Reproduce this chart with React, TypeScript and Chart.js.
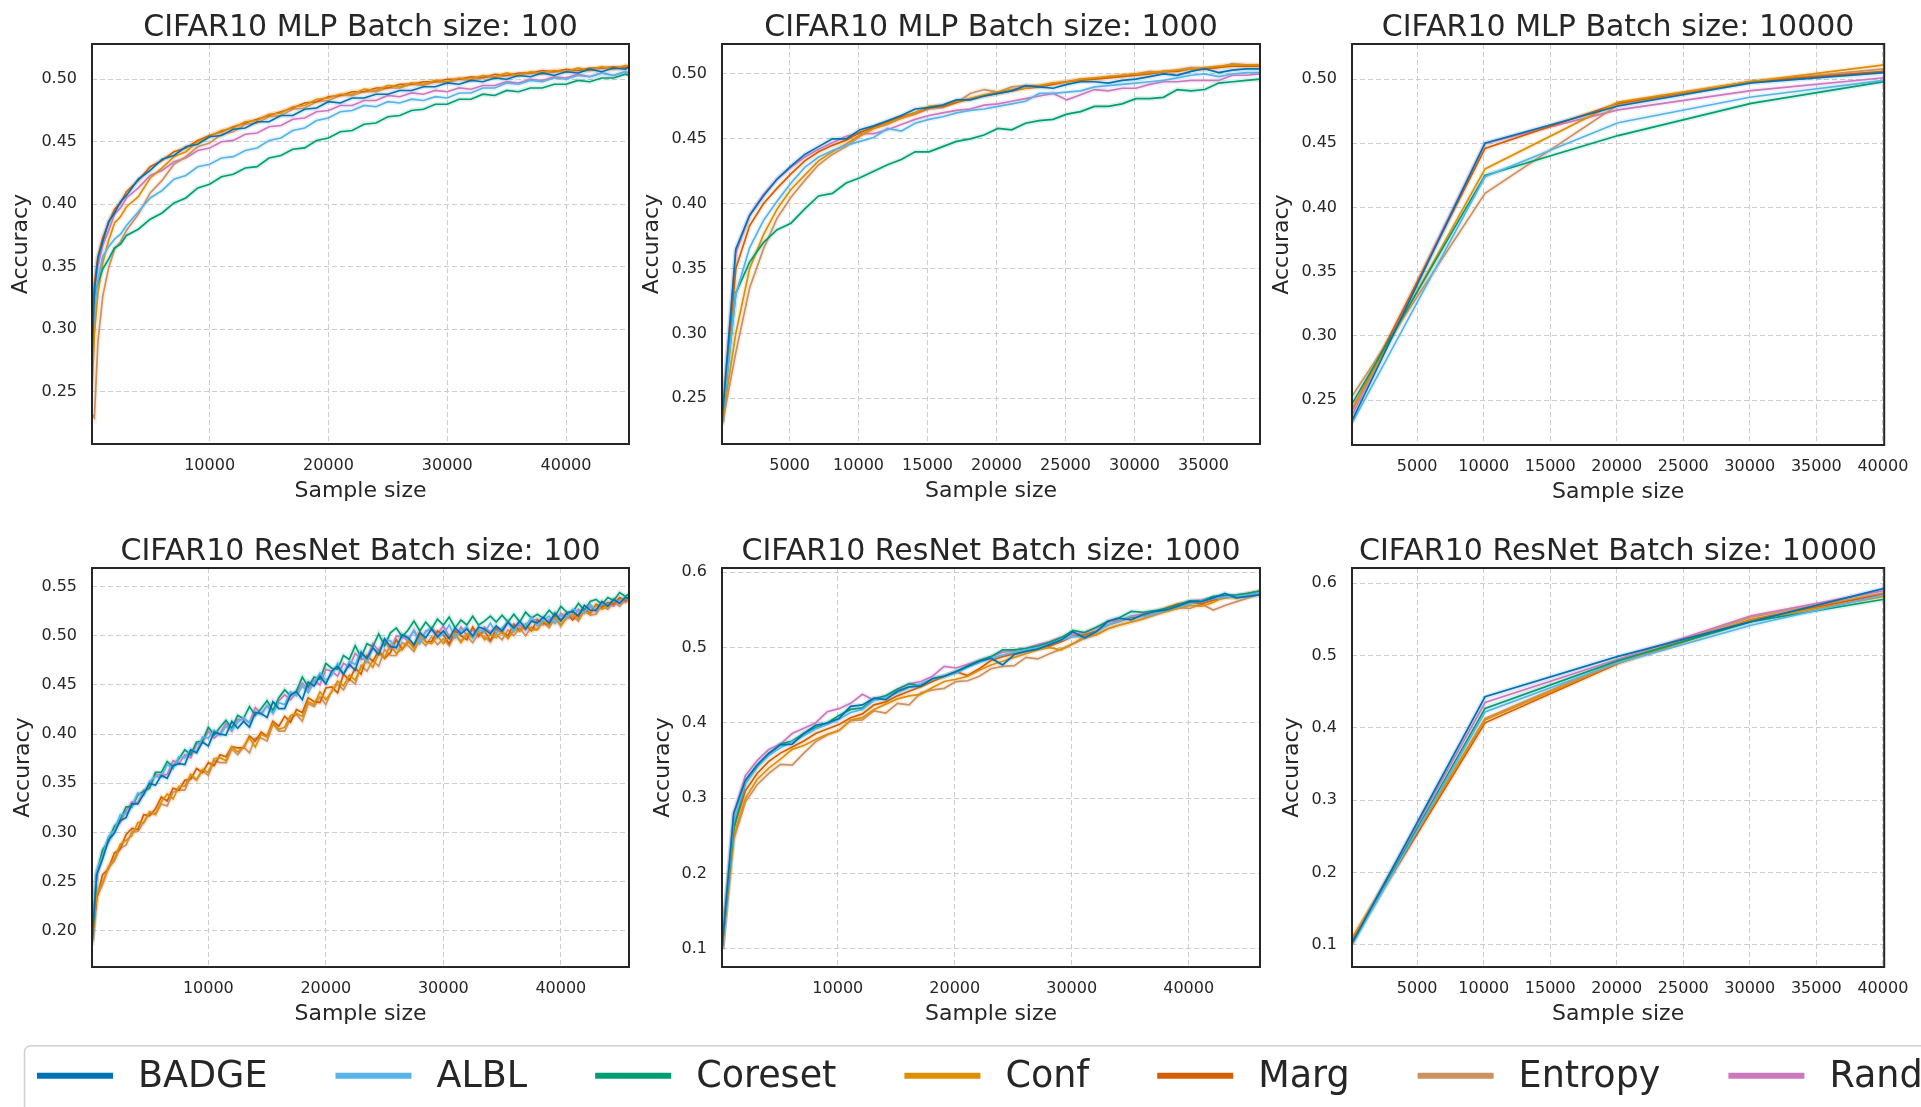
import React, { useEffect, useRef } from "react";
import { Chart, registerables } from "chart.js";

Chart.register(...registerables);

const FONT = "'DejaVu Sans', sans-serif";
const TEXT = "#262626";

const SERIES_NAMES = ["BADGE", "ALBL", "Coreset", "Conf", "Marg", "Entropy", "Rand"];
const SERIES_COLORS = ["#0173b2", "#56b4e9", "#029e73", "#de8f05", "#d55e00", "#ca9161", "#cc78bc"];

const PANEL_TITLES = [
  "CIFAR10 MLP Batch size: 100",
  "CIFAR10 MLP Batch size: 1000",
  "CIFAR10 MLP Batch size: 10000",
  "CIFAR10 ResNet Batch size: 100",
  "CIFAR10 ResNet Batch size: 1000",
  "CIFAR10 ResNet Batch size: 10000",
];
const X_LABEL = "Sample size";
const Y_LABEL = "Accuracy";

// ---------- tick values ----------
const X_TICKS_10K = [10000, 20000, 30000, 40000];
const X_TICKS_5K_35 = [5000, 10000, 15000, 20000, 25000, 30000, 35000];
const X_TICKS_5K_40 = [5000, 10000, 15000, 20000, 25000, 30000, 35000, 40000];
const Y_TICKS_MLP = [0.25, 0.3, 0.35, 0.4, 0.45, 0.5];
const Y_TICKS_RES100 = [0.2, 0.25, 0.3, 0.35, 0.4, 0.45, 0.5, 0.55];
const Y_TICKS_RES = [0.1, 0.2, 0.3, 0.4, 0.5, 0.6];

// ---------- MLP, batch 100 ----------
const X_P1 = [100,300,600,1000,1500,2000,2500,3000,4000,5000,6000,7000,8000,9000,10000,11000,12000,13000,14000,15000,16000,17000,18000,19000,20000,21000,22000,23000,24000,25000,26000,27000,28000,29000,30000,31000,32000,33000,34000,35000,36000,37000,38000,39000,40000,41000,42000,43000,44000,45000,45300];
const BADGE_P1 = [0.275,0.331,0.357,0.370,0.386,0.393,0.402,0.407,0.420,0.427,0.436,0.439,0.446,0.448,0.454,0.455,0.460,0.461,0.466,0.466,0.471,0.471,0.476,0.477,0.482,0.481,0.485,0.485,0.488,0.488,0.491,0.491,0.494,0.494,0.497,0.496,0.499,0.498,0.501,0.500,0.503,0.502,0.505,0.503,0.506,0.505,0.508,0.506,0.509,0.508,0.510];
const ALBL_P1 = [0.286,0.316,0.339,0.358,0.366,0.372,0.376,0.383,0.394,0.405,0.411,0.420,0.423,0.430,0.432,0.437,0.438,0.443,0.445,0.451,0.453,0.459,0.461,0.467,0.469,0.474,0.475,0.479,0.478,0.482,0.481,0.484,0.483,0.486,0.485,0.489,0.489,0.493,0.493,0.497,0.496,0.499,0.498,0.501,0.500,0.503,0.502,0.505,0.503,0.506,0.504];
const CORESET_P1 = [0.297,0.326,0.337,0.348,0.356,0.365,0.368,0.375,0.380,0.388,0.393,0.401,0.405,0.413,0.416,0.422,0.424,0.429,0.430,0.437,0.439,0.444,0.445,0.451,0.453,0.458,0.459,0.464,0.465,0.470,0.471,0.475,0.476,0.480,0.480,0.484,0.484,0.488,0.487,0.491,0.490,0.493,0.493,0.496,0.496,0.499,0.498,0.501,0.501,0.504,0.503];
const CONF_P1 = [0.250,0.296,0.329,0.353,0.371,0.385,0.390,0.398,0.406,0.421,0.429,0.438,0.442,0.450,0.454,0.459,0.461,0.466,0.467,0.472,0.473,0.478,0.479,0.484,0.485,0.488,0.488,0.492,0.491,0.495,0.494,0.497,0.496,0.499,0.498,0.501,0.500,0.503,0.502,0.505,0.503,0.506,0.505,0.507,0.506,0.509,0.507,0.510,0.508,0.511,0.510];
const MARG_P1 = [0.285,0.336,0.358,0.373,0.385,0.396,0.401,0.410,0.419,0.430,0.435,0.442,0.445,0.451,0.455,0.458,0.462,0.465,0.468,0.471,0.474,0.477,0.481,0.482,0.486,0.487,0.490,0.490,0.493,0.493,0.496,0.496,0.498,0.498,0.500,0.500,0.502,0.501,0.504,0.503,0.505,0.505,0.507,0.506,0.508,0.507,0.509,0.509,0.510,0.509,0.511];
const ENTROPY_P1 = [0.232,0.229,0.290,0.326,0.349,0.364,0.370,0.379,0.392,0.409,0.419,0.432,0.438,0.446,0.449,0.456,0.458,0.464,0.465,0.470,0.471,0.476,0.477,0.482,0.483,0.487,0.487,0.490,0.490,0.493,0.493,0.496,0.495,0.498,0.497,0.500,0.499,0.502,0.501,0.503,0.503,0.505,0.504,0.506,0.506,0.507,0.507,0.509,0.508,0.510,0.509];
const RAND_P1 = [0.280,0.331,0.351,0.367,0.379,0.392,0.397,0.405,0.413,0.423,0.427,0.434,0.437,0.443,0.445,0.450,0.451,0.456,0.457,0.462,0.463,0.468,0.469,0.474,0.475,0.479,0.479,0.483,0.483,0.487,0.486,0.489,0.488,0.491,0.490,0.493,0.492,0.495,0.495,0.498,0.497,0.500,0.499,0.502,0.501,0.504,0.502,0.505,0.503,0.506,0.505];

// ---------- MLP, batch 1000 ----------
const X_P2 = [100,1100,2100,3100,4100,5100,6100,7100,8100,9100,10100,11100,12100,13100,14100,15100,16100,17100,18100,19100,20100,21100,22100,23100,24100,25100,26100,27100,28100,29100,30100,31100,32100,33100,34100,35100,36100,37100,38100,39100];
const BADGE_P2 = [0.232,0.365,0.391,0.406,0.419,0.429,0.438,0.444,0.450,0.450,0.457,0.460,0.464,0.468,0.473,0.474,0.476,0.480,0.480,0.483,0.485,0.487,0.491,0.490,0.489,0.492,0.494,0.494,0.493,0.495,0.496,0.498,0.500,0.499,0.502,0.504,0.501,0.503,0.504,0.504];
const ALBL_P2 = [0.232,0.330,0.366,0.387,0.402,0.416,0.428,0.436,0.441,0.445,0.448,0.451,0.458,0.456,0.462,0.465,0.467,0.470,0.472,0.473,0.475,0.477,0.479,0.485,0.485,0.486,0.487,0.490,0.491,0.492,0.493,0.494,0.495,0.497,0.499,0.500,0.498,0.500,0.501,0.501];
const CORESET_P2 = [0.232,0.331,0.355,0.370,0.380,0.385,0.396,0.406,0.408,0.416,0.420,0.425,0.430,0.434,0.440,0.440,0.444,0.448,0.450,0.453,0.458,0.457,0.462,0.464,0.465,0.469,0.471,0.475,0.475,0.477,0.481,0.481,0.482,0.488,0.487,0.488,0.493,0.494,0.495,0.496];
const CONF_P2 = [0.231,0.300,0.350,0.376,0.396,0.411,0.422,0.433,0.440,0.446,0.453,0.458,0.462,0.466,0.470,0.475,0.476,0.479,0.481,0.484,0.486,0.488,0.489,0.491,0.493,0.494,0.496,0.497,0.498,0.499,0.500,0.501,0.502,0.503,0.504,0.505,0.506,0.507,0.507,0.507];
const MARG_P2 = [0.230,0.350,0.383,0.400,0.412,0.423,0.433,0.440,0.445,0.449,0.455,0.459,0.463,0.467,0.470,0.474,0.475,0.478,0.481,0.483,0.485,0.487,0.489,0.490,0.492,0.494,0.495,0.496,0.497,0.498,0.499,0.500,0.502,0.502,0.504,0.504,0.505,0.506,0.506,0.506];
const ENTROPY_P2 = [0.229,0.285,0.335,0.365,0.389,0.405,0.418,0.430,0.438,0.444,0.452,0.458,0.461,0.466,0.469,0.473,0.474,0.478,0.485,0.488,0.486,0.490,0.491,0.491,0.493,0.494,0.496,0.496,0.498,0.499,0.500,0.502,0.501,0.503,0.505,0.504,0.505,0.508,0.507,0.507];
const RAND_P2 = [0.231,0.362,0.391,0.407,0.419,0.428,0.436,0.442,0.447,0.452,0.454,0.454,0.457,0.461,0.465,0.468,0.470,0.472,0.473,0.476,0.477,0.479,0.481,0.483,0.485,0.480,0.484,0.488,0.487,0.489,0.489,0.492,0.494,0.494,0.495,0.495,0.495,0.499,0.499,0.500];

// ---------- batch 10000 (MLP and ResNet) ----------
const X_B10000 = [100, 10100, 20100, 30100, 40100];
const BADGE_P3 = [0.234, 0.450, 0.479, 0.497, 0.505];
const ALBL_P3 = [0.232, 0.424, 0.466, 0.486, 0.499];
const CORESET_P3 = [0.247, 0.425, 0.456, 0.481, 0.498];
const CONF_P3 = [0.243, 0.430, 0.482, 0.498, 0.511];
const MARG_P3 = [0.242, 0.446, 0.481, 0.498, 0.506];
const ENTROPY_P3 = [0.253, 0.411, 0.480, 0.498, 0.508];
const RAND_P3 = [0.238, 0.450, 0.476, 0.491, 0.501];

const BADGE_P6 = [0.102, 0.443, 0.499, 0.547, 0.593];
const ALBL_P6 = [0.100, 0.422, 0.490, 0.542, 0.584];
const CORESET_P6 = [0.101, 0.427, 0.493, 0.547, 0.578];
const CONF_P6 = [0.109, 0.411, 0.490, 0.549, 0.582];
const MARG_P6 = [0.106, 0.407, 0.489, 0.550, 0.585];
const ENTROPY_P6 = [0.107, 0.413, 0.492, 0.553, 0.587];
const RAND_P6 = [0.104, 0.435, 0.495, 0.555, 0.590];

// ---------- ResNet, batch 100 ----------
const X_P4 = [100,500,1000,1500,2000,2500,3000,3500,4000,4500,5000,5500,6000,6500,7000,7500,8000,8500,9000,9500,10000,10500,11000,11500,12000,12500,13000,13500,14000,14500,15000,15500,16000,16500,17000,17500,18000,18500,19000,19500,20000,20500,21000,21500,22000,22500,23000,23500,24000,24500,25000,25500,26000,26500,27000,27500,28000,28500,29000,29500,30000,30500,31000,31500,32000,32500,33000,33500,34000,34500,35000,35500,36000,36500,37000,37500,38000,38500,39000,39500,40000,40500,41000,41500,42000,42500,43000,43500,44000,44500,45000,45500,45800];
const BADGE_P4 = [0.190,0.257,0.273,0.292,0.299,0.312,0.315,0.329,0.329,0.339,0.350,0.348,0.358,0.355,0.368,0.370,0.369,0.384,0.381,0.392,0.388,0.402,0.400,0.399,0.413,0.406,0.413,0.407,0.422,0.421,0.417,0.433,0.426,0.426,0.440,0.443,0.435,0.453,0.449,0.459,0.451,0.464,0.469,0.461,0.471,0.465,0.483,0.477,0.488,0.481,0.497,0.489,0.488,0.501,0.498,0.491,0.503,0.498,0.507,0.499,0.505,0.497,0.508,0.502,0.507,0.500,0.509,0.507,0.502,0.510,0.505,0.514,0.508,0.515,0.507,0.515,0.513,0.519,0.513,0.523,0.515,0.523,0.525,0.520,0.531,0.526,0.526,0.535,0.530,0.537,0.533,0.539,0.538];
const ALBL_P4 = [0.195,0.261,0.276,0.296,0.302,0.318,0.319,0.327,0.340,0.338,0.352,0.357,0.356,0.369,0.365,0.377,0.376,0.384,0.382,0.397,0.396,0.404,0.399,0.408,0.404,0.412,0.417,0.411,0.422,0.420,0.429,0.421,0.432,0.430,0.443,0.439,0.449,0.442,0.453,0.462,0.455,0.460,0.472,0.461,0.474,0.471,0.484,0.473,0.487,0.483,0.496,0.495,0.487,0.501,0.497,0.505,0.492,0.505,0.507,0.498,0.502,0.511,0.498,0.505,0.509,0.498,0.507,0.503,0.513,0.503,0.508,0.514,0.504,0.514,0.510,0.519,0.510,0.516,0.520,0.513,0.521,0.518,0.527,0.525,0.524,0.532,0.526,0.533,0.531,0.537,0.534,0.539,0.538];
const CORESET_P4 = [0.185,0.258,0.282,0.291,0.306,0.313,0.326,0.326,0.338,0.342,0.345,0.361,0.361,0.372,0.367,0.375,0.384,0.379,0.392,0.393,0.407,0.399,0.407,0.414,0.406,0.419,0.416,0.428,0.419,0.426,0.434,0.424,0.437,0.445,0.439,0.444,0.458,0.448,0.458,0.456,0.472,0.467,0.466,0.480,0.476,0.490,0.478,0.492,0.489,0.502,0.490,0.503,0.508,0.499,0.506,0.515,0.505,0.514,0.507,0.517,0.511,0.519,0.508,0.516,0.511,0.520,0.511,0.515,0.520,0.514,0.521,0.514,0.522,0.514,0.524,0.518,0.522,0.518,0.526,0.520,0.530,0.524,0.524,0.533,0.526,0.535,0.537,0.532,0.539,0.536,0.544,0.540,0.543];
const CONF_P4 = [0.190,0.237,0.249,0.265,0.273,0.288,0.292,0.297,0.310,0.310,0.321,0.319,0.331,0.339,0.334,0.347,0.347,0.359,0.354,0.364,0.361,0.375,0.376,0.373,0.387,0.382,0.387,0.396,0.387,0.400,0.397,0.411,0.405,0.407,0.419,0.421,0.418,0.433,0.430,0.443,0.435,0.443,0.454,0.449,0.460,0.455,0.468,0.475,0.468,0.482,0.478,0.491,0.482,0.487,0.495,0.487,0.500,0.494,0.492,0.500,0.492,0.500,0.502,0.493,0.502,0.498,0.505,0.496,0.501,0.498,0.505,0.497,0.506,0.505,0.512,0.506,0.506,0.515,0.511,0.519,0.511,0.519,0.522,0.517,0.525,0.522,0.531,0.527,0.530,0.536,0.533,0.538,0.537];
const MARG_P4 = [0.190,0.233,0.257,0.263,0.279,0.283,0.298,0.304,0.303,0.318,0.317,0.324,0.336,0.332,0.345,0.343,0.353,0.354,0.365,0.361,0.371,0.368,0.379,0.377,0.387,0.386,0.386,0.398,0.393,0.402,0.398,0.413,0.408,0.418,0.412,0.425,0.422,0.437,0.433,0.432,0.447,0.448,0.442,0.461,0.455,0.467,0.461,0.480,0.474,0.485,0.477,0.483,0.496,0.486,0.494,0.489,0.504,0.494,0.494,0.505,0.501,0.492,0.505,0.500,0.496,0.509,0.500,0.505,0.495,0.507,0.503,0.500,0.512,0.505,0.511,0.505,0.516,0.513,0.511,0.522,0.516,0.523,0.516,0.522,0.527,0.523,0.532,0.529,0.534,0.532,0.539,0.536,0.539];
const ENTROPY_P4 = [0.186,0.234,0.247,0.264,0.271,0.284,0.287,0.301,0.301,0.310,0.320,0.318,0.329,0.327,0.341,0.343,0.343,0.357,0.353,0.363,0.358,0.373,0.371,0.371,0.385,0.379,0.387,0.381,0.396,0.396,0.393,0.410,0.403,0.403,0.416,0.420,0.413,0.431,0.428,0.438,0.430,0.444,0.451,0.445,0.456,0.451,0.470,0.464,0.475,0.469,0.486,0.480,0.480,0.493,0.490,0.484,0.496,0.490,0.499,0.491,0.497,0.490,0.501,0.495,0.500,0.493,0.502,0.499,0.494,0.502,0.496,0.506,0.500,0.508,0.500,0.509,0.507,0.514,0.508,0.518,0.510,0.518,0.520,0.515,0.526,0.521,0.522,0.531,0.527,0.534,0.530,0.536,0.535];
const RAND_P4 = [0.192,0.256,0.281,0.291,0.305,0.310,0.322,0.331,0.330,0.343,0.345,0.359,0.358,0.359,0.373,0.370,0.379,0.376,0.390,0.391,0.403,0.396,0.401,0.411,0.403,0.415,0.415,0.412,0.427,0.421,0.429,0.422,0.434,0.440,0.435,0.442,0.452,0.445,0.455,0.450,0.466,0.464,0.459,0.472,0.468,0.482,0.476,0.477,0.492,0.485,0.494,0.486,0.500,0.499,0.495,0.506,0.495,0.504,0.508,0.502,0.510,0.500,0.498,0.509,0.500,0.506,0.499,0.509,0.504,0.509,0.503,0.514,0.507,0.511,0.506,0.515,0.517,0.511,0.517,0.513,0.523,0.519,0.518,0.527,0.523,0.530,0.524,0.532,0.532,0.530,0.537,0.534,0.537];

// ---------- ResNet, batch 1000 ----------
const X_P5 = [100,1100,2100,3100,4100,5100,6100,7100,8100,9100,10100,11100,12100,13100,14100,15100,16100,17100,18100,19100,20100,21100,22100,23100,24100,25100,26100,27100,28100,29100,30100,31100,32100,33100,34100,35100,36100,37100,38100,39100,40100,41100,42100,43100,44100,45100,46100];
const BADGE_P5 = [0.100,0.280,0.324,0.344,0.360,0.371,0.372,0.386,0.397,0.400,0.406,0.422,0.424,0.433,0.431,0.442,0.448,0.449,0.459,0.462,0.468,0.475,0.482,0.486,0.477,0.491,0.495,0.498,0.504,0.510,0.521,0.513,0.521,0.535,0.539,0.537,0.544,0.548,0.550,0.555,0.561,0.561,0.566,0.572,0.566,0.568,0.570];
const ALBL_P5 = [0.100,0.270,0.320,0.343,0.357,0.367,0.375,0.383,0.392,0.398,0.405,0.414,0.418,0.430,0.434,0.440,0.447,0.452,0.458,0.463,0.466,0.474,0.480,0.486,0.490,0.494,0.497,0.500,0.504,0.510,0.515,0.514,0.521,0.530,0.535,0.542,0.541,0.545,0.550,0.554,0.558,0.562,0.565,0.567,0.568,0.570,0.573];
const CORESET_P5 = [0.100,0.260,0.320,0.342,0.358,0.372,0.376,0.386,0.394,0.400,0.410,0.418,0.420,0.432,0.436,0.445,0.452,0.450,0.458,0.462,0.468,0.476,0.483,0.488,0.497,0.497,0.499,0.502,0.507,0.513,0.523,0.520,0.527,0.535,0.540,0.548,0.547,0.549,0.552,0.557,0.562,0.562,0.568,0.569,0.570,0.572,0.575];
const CONF_P5 = [0.100,0.250,0.300,0.325,0.340,0.352,0.365,0.370,0.378,0.385,0.390,0.404,0.407,0.418,0.425,0.432,0.436,0.438,0.447,0.455,0.458,0.462,0.470,0.477,0.482,0.487,0.492,0.497,0.500,0.497,0.505,0.515,0.517,0.525,0.530,0.534,0.538,0.545,0.548,0.552,0.556,0.555,0.560,0.568,0.566,0.572,0.575];
const MARG_P5 = [0.100,0.260,0.310,0.333,0.349,0.360,0.368,0.376,0.386,0.392,0.398,0.407,0.412,0.424,0.428,0.436,0.442,0.448,0.455,0.462,0.468,0.463,0.472,0.483,0.488,0.492,0.496,0.500,0.502,0.508,0.515,0.517,0.522,0.530,0.535,0.540,0.542,0.545,0.553,0.558,0.560,0.558,0.563,0.566,0.568,0.570,0.572];
const ENTROPY_P5 = [0.100,0.245,0.295,0.318,0.333,0.345,0.344,0.360,0.375,0.384,0.390,0.403,0.404,0.416,0.413,0.426,0.424,0.440,0.444,0.446,0.455,0.456,0.462,0.472,0.475,0.476,0.487,0.485,0.492,0.498,0.505,0.512,0.517,0.525,0.530,0.534,0.538,0.543,0.548,0.553,0.552,0.558,0.550,0.556,0.561,0.566,0.571];
const RAND_P5 = [0.100,0.280,0.330,0.350,0.365,0.372,0.386,0.393,0.400,0.415,0.419,0.426,0.438,0.430,0.436,0.443,0.452,0.455,0.462,0.475,0.473,0.478,0.483,0.488,0.494,0.496,0.499,0.504,0.508,0.514,0.518,0.520,0.526,0.534,0.536,0.542,0.545,0.548,0.552,0.556,0.562,0.563,0.565,0.568,0.569,0.572,0.575];

// ---------- panel definitions (data + axis ranges) ----------
type PanelDef = {
  title: string;
  xs: number[];
  ys: number[][];
  xTicks: number[];
  yTicks: number[];
  xMin: number;
  xMax: number;
  yMin: number;
  yMax: number;
  yDecimals: number;
};

const PANELS: PanelDef[] = [
  { title: PANEL_TITLES[0], xs: X_P1, ys: [BADGE_P1, ALBL_P1, CORESET_P1, CONF_P1, MARG_P1, ENTROPY_P1, RAND_P1], xTicks: X_TICKS_10K, yTicks: Y_TICKS_MLP, xMin: 100, xMax: 45300, yMin: 0.2081, yMax: 0.5282, yDecimals: 2 },
  { title: PANEL_TITLES[1], xs: X_P2, ys: [BADGE_P2, ALBL_P2, CORESET_P2, CONF_P2, MARG_P2, ENTROPY_P2, RAND_P2], xTicks: X_TICKS_5K_35, yTicks: Y_TICKS_MLP, xMin: 100, xMax: 39100, yMin: 0.2148, yMax: 0.5231, yDecimals: 2 },
  { title: PANEL_TITLES[2], xs: X_B10000, ys: [BADGE_P3, ALBL_P3, CORESET_P3, CONF_P3, MARG_P3, ENTROPY_P3, RAND_P3], xTicks: X_TICKS_5K_40, yTicks: Y_TICKS_MLP, xMin: 100, xMax: 40100, yMin: 0.215, yMax: 0.5273, yDecimals: 2 },
  { title: PANEL_TITLES[3], xs: X_P4, ys: [BADGE_P4, ALBL_P4, CORESET_P4, CONF_P4, MARG_P4, ENTROPY_P4, RAND_P4], xTicks: X_TICKS_10K, yTicks: Y_TICKS_RES100, xMin: 100, xMax: 45800, yMin: 0.1631, yMax: 0.569, yDecimals: 2 },
  { title: PANEL_TITLES[4], xs: X_P5, ys: [BADGE_P5, ALBL_P5, CORESET_P5, CONF_P5, MARG_P5, ENTROPY_P5, RAND_P5], xTicks: X_TICKS_10K, yTicks: Y_TICKS_RES, xMin: 100, xMax: 46100, yMin: 0.0761, yMax: 0.6057, yDecimals: 1 },
  { title: PANEL_TITLES[5], xs: X_B10000, ys: [BADGE_P6, ALBL_P6, CORESET_P6, CONF_P6, MARG_P6, ENTROPY_P6, RAND_P6], xTicks: X_TICKS_5K_40, yTicks: Y_TICKS_RES, xMin: 100, xMax: 40100, yMin: 0.0691, yMax: 0.6212, yDecimals: 1 },
];

// ---------- layout (pixel placement of each plot area) ----------
const LAYOUT = [
  { L: 92, T: 44, R: 629, B: 444, yTitleBase: 28.3 },
  { L: 722, T: 44, R: 1260, B: 444, yTitleBase: 660 },
  { L: 1352, T: 44, R: 1888, B: 445, yTitleBase: 1290 },
  { L: 92, T: 568, R: 629, B: 967, yTitleBase: 30.3 },
  { L: 722, T: 568, R: 1260, B: 967, yTitleBase: 670.3 },
  { L: 1352, T: 568, R: 1888, B: 967, yTitleBase: 1300 },
];

function withAlpha(hex: string, a: number) {
  const n = parseInt(hex.slice(1), 16);
  return `rgba(${(n >> 16) & 255},${(n >> 8) & 255},${n & 255},${a})`;
}

const framePlugin = {
  id: "frame",
  afterDatasetsDraw(chart: any) {
    const { ctx, chartArea: a } = chart;
    ctx.save();
    ctx.strokeStyle = "#262626";
    ctx.lineWidth = 2;
    ctx.strokeRect(a.left, a.top, a.right - a.left, a.bottom - a.top);
    ctx.restore();
  },
};

const titlePlugin = {
  id: "panelTitle",
  afterDraw(chart: any, _args: any, opts: any) {
    const { ctx, chartArea: a } = chart;
    ctx.save();
    ctx.fillStyle = TEXT;
    ctx.font = `30px ${FONT}`;
    ctx.textAlign = "center";
    ctx.textBaseline = "alphabetic";
    ctx.fillText(opts.text, (a.left + a.right) / 2, a.top - 8);
    ctx.restore();
  },
};

function Panel({ p, lay }: { p: PanelDef; lay: (typeof LAYOUT)[number] }) {
  const ref = useRef<HTMLCanvasElement>(null);
  const cL = Math.round(lay.yTitleBase - 20.8);
  const cT = lay.T - 44;
  const cR = Math.min(lay.R + 33, 1921);
  const cB = lay.B + 60;
  const w = cR - cL;
  const h = cB - cT;
  const yAxisW = lay.L - cL;
  const xAxisH = cB - lay.B;
  const padRight = cR - lay.R;

  useEffect(() => {
    const datasets: any[] = [];
    p.ys.forEach((ys, i) => {
      datasets.push({
        label: SERIES_NAMES[i],
        data: p.xs.map((x, j) => ({ x, y: ys[j] })),
        borderColor: SERIES_COLORS[i],
        backgroundColor: SERIES_COLORS[i],
        borderWidth: 1.7,
        pointRadius: 0,
        tension: 0,
        fill: false,
        order: 0,
      });
    });
    p.ys.forEach((ys, i) => {
      datasets.push({
        label: SERIES_NAMES[i] + " band",
        data: p.xs.map((x, j) => ({ x, y: ys[j] })),
        borderColor: withAlpha(SERIES_COLORS[i], 0.14),
        borderWidth: 5,
        pointRadius: 0,
        tension: 0,
        fill: false,
        order: 1,
      });
    });
    const tickFont = { family: FONT, size: 16 };
    const chart = new Chart(ref.current!, {
      type: "line",
      data: { datasets },
      options: {
        responsive: false,
        animation: false,
        devicePixelRatio: 1,
        events: [],
        layout: { padding: { top: lay.T - cT, right: padRight, left: 0, bottom: 0 } },
        plugins: {
          legend: { display: false },
          tooltip: { enabled: false },
          title: { display: false },
          panelTitle: { text: p.title },
        } as any,
        scales: {
          x: {
            type: "linear",
            min: p.xMin,
            max: p.xMax,
            afterFit: (s: any) => {
              s.height = xAxisH;
            },
            afterBuildTicks: (s: any) => {
              s.ticks = p.xTicks.map((v) => ({ value: v }));
            },
            grid: { color: "#cccccc", lineWidth: 1, drawTicks: false },
            border: { display: false, dash: [5, 3] },
            ticks: {
              padding: 12.6,
              color: TEXT,
              font: tickFont,
              maxRotation: 0,
              minRotation: 0,
              autoSkip: false,
              callback: (v: any) => String(v),
            },
            title: { display: true, text: X_LABEL, color: TEXT, font: { family: FONT, size: 22 }, padding: 0 },
          },
          y: {
            type: "linear",
            min: p.yMin,
            max: p.yMax,
            afterFit: (s: any) => {
              s.width = yAxisW;
            },
            afterBuildTicks: (s: any) => {
              s.ticks = p.yTicks.map((v) => ({ value: v }));
            },
            grid: { color: "#cccccc", lineWidth: 1, drawTicks: false },
            border: { display: false, dash: [5, 3] },
            ticks: {
              padding: 15,
              color: TEXT,
              font: tickFont,
              autoSkip: false,
              callback: (v: any) => Number(v).toFixed(p.yDecimals),
            },
            title: { display: true, text: Y_LABEL, color: TEXT, font: { family: FONT, size: 22 }, padding: 0 },
          },
        },
      } as any,
      plugins: [framePlugin, titlePlugin],
    });
    return () => chart.destroy();
  }, []);

  return (
    <canvas
      ref={ref}
      width={w}
      height={h}
      style={{ position: "absolute", left: cL, top: cT, width: w, height: h }}
    />
  );
}

const legendPlugin = {
  id: "legendBox",
  afterDraw(chart: any) {
    const ctx = chart.ctx;
    ctx.save();
    ctx.fillStyle = "#ffffff";
    ctx.strokeStyle = "#d0d0d0";
    ctx.lineWidth = 1.5;
    ctx.beginPath();
    ctx.roundRect(24.5, 5.7, 1960, 120, 6);
    ctx.fill();
    ctx.stroke();
    ctx.font = `36.5px ${FONT}`;
    ctx.textBaseline = "alphabetic";
    ctx.textAlign = "left";
    let x = 37;
    chart.data.datasets.forEach((ds: any) => {
      ctx.strokeStyle = ds.borderColor;
      ctx.lineWidth = 6;
      ctx.lineCap = "butt";
      ctx.beginPath();
      ctx.moveTo(x, 35.7);
      ctx.lineTo(x + 76, 35.7);
      ctx.stroke();
      ctx.fillStyle = TEXT;
      ctx.fillText(ds.label, x + 101, 47.3);
      x += 101 + ctx.measureText(ds.label).width + 68;
    });
    ctx.restore();
  },
};

function Legend() {
  const ref = useRef<HTMLCanvasElement>(null);
  useEffect(() => {
    const chart = new Chart(ref.current!, {
      type: "line",
      data: {
        datasets: SERIES_NAMES.map((n, i) => ({ label: n, data: [], borderColor: SERIES_COLORS[i] })),
      },
      options: {
        responsive: false,
        animation: false,
        devicePixelRatio: 1,
        events: [],
        plugins: { legend: { display: false }, tooltip: { enabled: false } },
        scales: { x: { display: false }, y: { display: false } },
      } as any,
      plugins: [legendPlugin],
    });
    return () => chart.destroy();
  }, []);
  return (
    <canvas
      ref={ref}
      width={1921}
      height={67}
      style={{ position: "absolute", left: 0, top: 1040, width: 1921, height: 67 }}
    />
  );
}

export default function App() {
  return (
    <div
      style={{
        position: "absolute",
        left: 0,
        top: 0,
        width: 1921,
        height: 1107,
        background: "#ffffff",
        overflow: "hidden",
      }}
    >
      {PANELS.map((p, i) => (
        <Panel key={i} p={p} lay={LAYOUT[i]} />
      ))}
      <Legend />
    </div>
  );
}
